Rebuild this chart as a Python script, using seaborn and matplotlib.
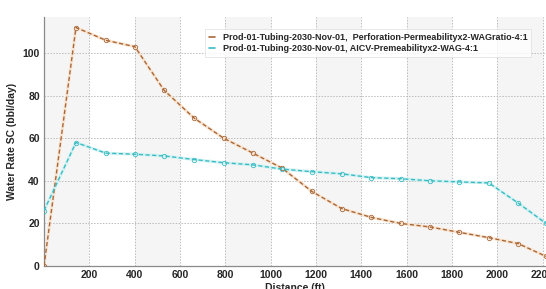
import numpy as np
import pandas as pd
import seaborn as sns
import matplotlib.pyplot as plt

sns.set_theme(style="white")
plt.rcParams['font.family'] = ['Liberation Sans', 'DejaVu Sans']

distance = [0, 141, 273, 401, 530, 662, 793, 922, 1050, 1182, 1313, 1445,
            1573, 1705, 1833, 1963, 2093, 2215]
perf_rate = [0, 112, 106, 103, 82.5, 69.5, 60, 53, 46, 35, 27, 22.8,
             20, 18.3, 15.8, 13.3, 10.5, 4.5]
aicv_rate = [26, 58, 53, 52.5, 51.7, 50, 48.5, 47.5, 45.5, 44.3, 43.3, 41.5,
             41, 40, 39.5, 39, 29.5, 20]
series_names = ["Prod-01-Tubing-2030-Nov-01,  Perforation-Permeabilityx2-WAGratio-4:1",
                "Prod-01-Tubing-2030-Nov-01, AICV-Premeabilityx2-WAG-4:1"]
colors = ["#a8683a", "#3cbcc2"]
halo = ["#f9e4d0", "#d2f2f3"]

df = pd.DataFrame({"Distance": distance * 2,
                   "Rate": perf_rate + aicv_rate,
                   "Series": [series_names[0]] * len(distance) + [series_names[1]] * len(distance)})

fig = plt.figure(figsize=(5.46, 2.89), dpi=100)
ax = fig.add_axes([0.0806, 0.0796, 0.9194, 0.862])

# alternating shaded bands
for x0 in range(0, 2400, 400):
    ax.axvspan(x0, x0 + 200, color="#f5f5f5", zorder=0, lw=0)

# soft halo under the dashed lines
for name, c in zip(series_names, halo):
    sub = df[df["Series"] == name]
    ax.plot(sub["Distance"], sub["Rate"], color=c, lw=2.2, zorder=2, solid_capstyle="round")

sns.lineplot(data=df, x="Distance", y="Rate", hue="Series", palette=colors,
             ax=ax, lw=1.0, marker="o", markersize=3.2, markerfacecolor="none",
             markeredgewidth=0.6, legend=False, zorder=3)
for line, c in zip(ax.lines[-2:], colors):
    line.set_linestyle((0, (3, 1.8)))
    line.set_markeredgecolor(c)

ax.set_xlim(0, 2215)
ax.set_ylim(0, 117)
ax.set_xticks([200, 400, 600, 800, 1000, 1200, 1400, 1600, 1800, 2000, 2200])
ax.set_yticks([0, 20, 40, 60, 80, 100])
ax.grid(True, color="#bcbcbc", linestyle=(0, (1.5, 1.5)), lw=0.7)
ax.tick_params(labelsize=7.5, length=0, pad=3)
for lab in ax.get_xticklabels() + ax.get_yticklabels():
    lab.set_fontweight("bold")

for s in ["top", "right"]:
    ax.spines[s].set_visible(False)
for s in ["left", "bottom"]:
    ax.spines[s].set_color("#8a8a8a")
    ax.spines[s].set_linewidth(0.9)

ax.set_xlabel("Distance (ft)", fontsize=7.5, fontweight="bold", labelpad=2)
ax.set_ylabel("Water Rate SC (bbl/day)", fontsize=7.5, fontweight="bold", labelpad=4)

handles = [plt.Line2D([], [], color=c, lw=1.2) for c in colors]
leg = ax.legend(handles, series_names, loc="upper right", bbox_to_anchor=(0.98, 0.97),
                prop={"size": 6.5, "weight": "bold"}, frameon=True, fancybox=False,
                handlelength=0.7, handletextpad=0.8, borderpad=0.45, labelspacing=0.25)
leg.get_frame().set_edgecolor("#dddddd")
leg.get_frame().set_linewidth(0.6)

fig.savefig("out.png", dpi=100)
